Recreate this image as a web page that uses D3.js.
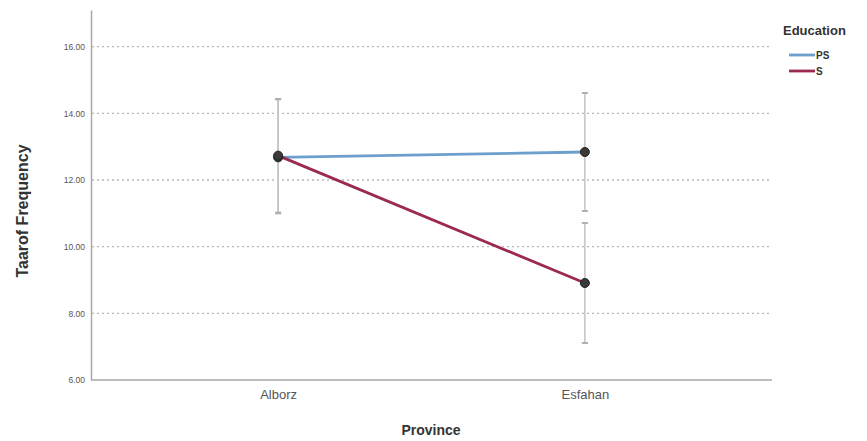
<!DOCTYPE html>
<html><head><meta charset="utf-8">
<script src="https://cdn.jsdelivr.net/npm/d3@7"></script>
<style>body{margin:0;background:#fff}svg{display:block;font-family:"Liberation Sans",Arial,sans-serif}</style>
</head><body><svg id="c" width="867" height="441"></svg>
<script>
const provinces = ["Alborz", "Esfahan"];
const seriesNames = ["PS", "S"];
const psMean = [12.68, 12.84];
const psLow = [11.0, 11.07];
const psHigh = [14.43, 14.61];
const sMean = [12.73, 8.91];
const sLow = [11.02, 7.11];
const sHigh = [14.42, 10.71];
const yTicks = [6, 8, 10, 12, 14, 16];
const colors = ["#6c9fcc", "#9b2a50"];

const svg = d3.select("#c");
const x = d3.scalePoint().domain(provinces).range([91, 772]).padding(0.61);
const y = d3.scaleLinear().domain([6, 17.1]).range([380, 10]);

// gridlines
svg.append("g").selectAll("line").data(yTicks.slice(1)).join("line")
  .attr("x1", 92).attr("x2", 772).attr("y1", d => y(d)).attr("y2", d => y(d))
  .attr("stroke", "#b8b8b8").attr("stroke-width", 1.3).attr("stroke-dasharray", "2,3");

// y axis
const ya = svg.append("g").attr("transform", "translate(91,0)")
  .call(d3.axisLeft(y).tickValues(yTicks).tickFormat(d3.format(".2f")).tickSize(0).tickPadding(6));
ya.select(".domain").attr("stroke", "#a8a8a8").attr("stroke-width", 1.5);
ya.selectAll("text").attr("font-size", 8.5).attr("fill", "#555");

// x axis
const xa = svg.append("g").attr("transform", "translate(0,380)")
  .call(d3.axisBottom(x).tickSize(0).tickPadding(10));
xa.select(".domain").attr("stroke", "#a8a8a8").attr("stroke-width", 1.5).attr("d", "M91,0H772");
xa.selectAll("text").attr("font-size", 13).attr("fill", "#555");

// titles
svg.append("text").attr("x", 431).attr("y", 435).attr("text-anchor", "middle")
  .attr("font-size", 14).attr("font-weight", "bold").attr("fill", "#333").text("Province");
svg.append("text").attr("transform", "translate(28,211) rotate(-90)").attr("text-anchor", "middle")
  .attr("font-size", 16).attr("font-weight", "bold").attr("fill", "#333").text("Taarof Frequency");

const series = [
  {name: seriesNames[0], mean: psMean, low: psLow, high: psHigh, color: colors[0]},
  {name: seriesNames[1], mean: sMean, low: sLow, high: sHigh, color: colors[1]}
];

// error bars
series.forEach(s => {
  const g = svg.append("g");
  provinces.forEach((p, i) => {
    g.append("line").attr("x1", x(p)).attr("x2", x(p)).attr("y1", y(s.low[i])).attr("y2", y(s.high[i]))
      .attr("stroke", "#c4c4c4").attr("stroke-width", 1.5);
    [s.low[i], s.high[i]].forEach(v => g.append("line").attr("x1", x(p) - 3).attr("x2", x(p) + 3)
      .attr("y1", y(v)).attr("y2", y(v)).attr("stroke", "#b0b0b0").attr("stroke-width", 2));
  });
});

// lines
const line = d3.line().x((d, i) => x(provinces[i])).y(d => y(d));
series.forEach(s => {
  svg.append("path").datum(s.mean).attr("d", line).attr("fill", "none")
    .attr("stroke", s.color).attr("stroke-width", 2.8);
});
// points
series.forEach(s => {
  svg.append("g").selectAll("circle").data(s.mean).join("circle")
    .attr("cx", (d, i) => x(provinces[i])).attr("cy", d => y(d)).attr("r", 4.5)
    .attr("fill", "#3a3a3a").attr("stroke", "#222").attr("stroke-width", 1);
});

// legend
svg.append("text").attr("x", 783).attr("y", 35).attr("font-size", 13).attr("font-weight", "bold")
  .attr("fill", "#333").text("Education");
series.forEach((s, i) => {
  const yy = 55 + i * 16;
  svg.append("line").attr("x1", 789).attr("x2", 815).attr("y1", yy).attr("y2", yy)
    .attr("stroke", s.color).attr("stroke-width", 2.8);
  svg.append("text").attr("x", 816).attr("y", yy + 3.5).attr("font-size", 10).attr("font-weight", "bold")
    .attr("fill", "#333").text(s.name);
});
</script></body></html>
